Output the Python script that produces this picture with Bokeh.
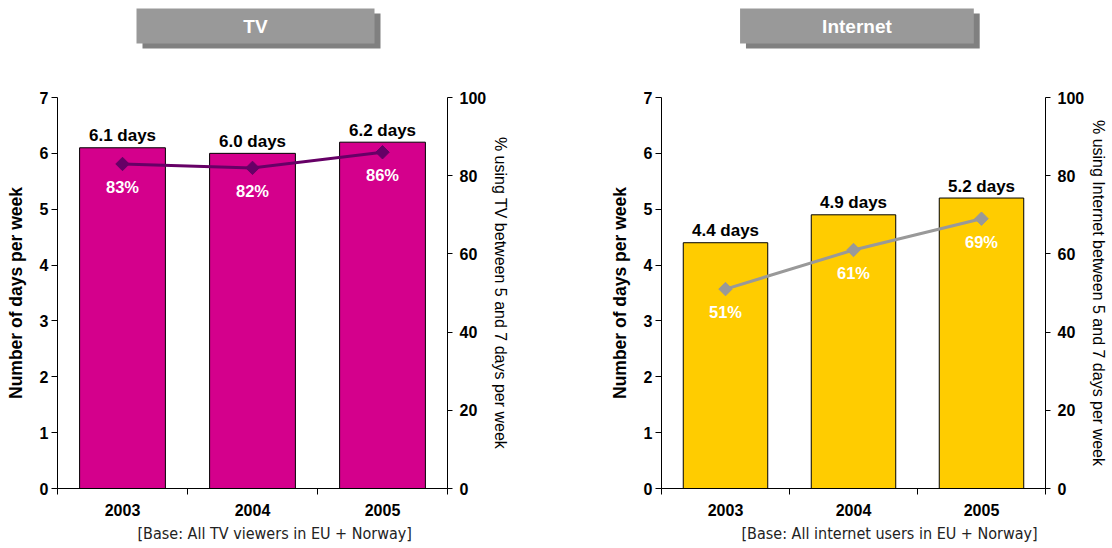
import math
from bokeh.plotting import figure
from bokeh.models import Range1d, LinearAxis, FixedTicker, Title
from bokeh.layouts import row, column
from bokeh.embed import file_html
from bokeh.resources import INLINE
from bokeh.core.properties import value

# ---------------- data ----------------
years = ["2003", "2004", "2005"]
tv_days = [6.1, 6.0, 6.2]
tv_pct = [83, 82, 86]
net_days = [4.4, 4.9, 5.2]
net_pct = [51, 61, 69]
days_ticks = [0, 1, 2, 3, 4, 5, 6, 7]
pct_ticks = [0, 20, 40, 60, 80, 100]

FONT = "Liberation Sans"
NARROW = "DejaVu Sans Condensed"

TITLE_H = 60
CHART_H = 487


def title_fig(text, width, lb, rb, box_left):
    t = figure(width=width, height=TITLE_H, x_range=Range1d(lb, width - rb), y_range=Range1d(TITLE_H, 0),
               output_backend="svg", toolbar_location=None,
               min_border_left=lb, min_border_right=rb, min_border_top=0, min_border_bottom=0,
               x_axis_type=None, y_axis_type=None)
    t.outline_line_color = None
    t.xgrid.visible = False
    t.ygrid.visible = False
    bw = 238
    t.quad(left=[box_left + 6], right=[box_left + bw + 6], top=[13], bottom=[48],
           fill_color="#808080", line_color=None)
    t.quad(left=[box_left], right=[box_left + bw], top=[8], bottom=[43],
           fill_color="#999999", line_color=None)
    t.text(x=[box_left + bw / 2], y=[26], text=[text], text_align="center", text_baseline="middle",
           text_color="white", text_font=value(FONT), text_font_style="bold", text_font_size="19px")
    return t


def chart(width, left_b, right_b, days, pct, bar_color, line_color, right_label, footer):
    n = len(years)
    xs = [i + 0.5 for i in range(n)]
    p = figure(width=width, height=CHART_H, x_range=Range1d(0, n), y_range=Range1d(0, 7),
               output_backend="svg", toolbar_location=None,
               min_border_left=left_b, min_border_right=right_b,
               min_border_top=37, min_border_bottom=CHART_H - 37 - 391)
    p.outline_line_color = None
    p.xgrid.visible = False
    p.ygrid.visible = False
    p.extra_y_ranges = {"pct": Range1d(0, 100)}

    p.vbar(x=xs, top=days, width=0.66, fill_color=bar_color, line_color="black", line_width=1)
    p.line(x=xs, y=pct, y_range_name="pct", line_color=line_color, line_width=3)
    p.scatter(x=xs, y=pct, y_range_name="pct", marker="square", size=9.5, angle=math.pi / 4,
              fill_color=line_color, line_color=line_color)

    p.text(x=xs, y=days, text=[f"{d:.1f} days" for d in days], text_align="center",
           text_baseline="alphabetic", y_offset=-12, text_color="black",
           text_font=value(FONT), text_font_style="bold", text_font_size="17px")
    p.text(x=xs, y=pct, y_range_name="pct", text=[f"{v}%" for v in pct], text_align="center",
           text_baseline="top", y_offset=14, text_color="white",
           text_font=value(FONT), text_font_style="bold", text_font_size="16.5px")

    # x axis: labels at centres, ticks at category boundaries
    xa = p.xaxis[0]
    xa.ticker = FixedTicker(ticks=xs, minor_ticks=list(range(n + 1)))
    xa.major_label_overrides = {x: y for x, y in zip(xs, years)}
    xa.major_tick_out = 0
    xa.major_tick_in = 0
    xa.minor_tick_out = 6
    xa.minor_tick_in = 0
    xa.minor_tick_line_color = "black"
    xa.axis_line_color = "black"
    xa.major_label_standoff = 9
    xa.major_label_text_font = FONT
    xa.major_label_text_font_style = "bold"
    xa.major_label_text_font_size = "16px"
    xa.major_label_text_color = "black"

    ya = p.yaxis[0]
    ya.ticker = FixedTicker(ticks=days_ticks)
    ya.major_tick_out = 6
    ya.major_tick_in = 0
    ya.minor_tick_line_color = None
    ya.axis_line_color = "black"
    ya.major_tick_line_color = "black"
    ya.major_label_standoff = 3
    ya.major_label_text_font = FONT
    ya.major_label_text_font_style = "bold"
    ya.major_label_text_font_size = "16px"
    ya.major_label_text_color = "black"
    ya.axis_label = "Number of days per week"
    ya.axis_label_standoff = 11
    ya.axis_label_text_font = FONT
    ya.axis_label_text_font_style = "bold"
    ya.axis_label_text_font_size = "17.5px"
    ya.axis_label_text_color = "black"

    ra = LinearAxis(y_range_name="pct", ticker=FixedTicker(ticks=pct_ticks))
    ra.major_tick_out = 5
    ra.major_tick_in = 0
    ra.minor_tick_line_color = None
    ra.axis_line_color = "black"
    ra.major_label_standoff = 7
    ra.major_label_text_font = FONT
    ra.major_label_text_font_style = "bold"
    ra.major_label_text_font_size = "16px"
    ra.major_label_text_color = "black"
    ra.axis_label = right_label
    ra.axis_label_standoff = 3
    ra.axis_label_text_font = FONT
    ra.axis_label_text_font_style = "normal"
    ra.axis_label_text_font_size = "16px"
    ra.axis_label_text_color = "black"
    p.add_layout(ra, "right")

    ft = Title(text=footer, align="left", offset=80, text_font=NARROW, text_font_size="16px",
               text_font_style="normal", text_color="#222222", standoff=7)
    p.add_layout(ft, "below")
    return p


W1, W2 = 606, 504
LB1, RB1 = 57, W1 - 57 - 390
LB2, RB2 = 49, W2 - 49 - 391
tv = chart(W1, LB1, RB1, tv_days, tv_pct, "#D4008C", "#660066",
           "% using TV between 5 and 7 days per week", "[Base: All TV viewers in EU + Norway]")
net = chart(W2, LB2, RB2, net_days, net_pct, "#FFCC00", "#999999",
            "% using Internet between 5 and 7 days per week", "[Base: All internet users in EU + Norway]")

layout = row(column(title_fig("TV", W1, LB1, RB1, 136), tv),
             column(title_fig("Internet", W2, LB2, RB2, 735 - W1), net))

open("out.html", "w").write(file_html(layout, INLINE))
